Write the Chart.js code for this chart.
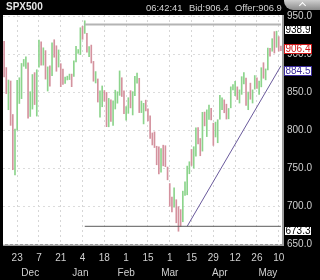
<!DOCTYPE html>
<html>
<head>
<meta charset="utf-8">
<title>SPX500</title>
<script src="https://cdn.jsdelivr.net/npm/chart.js@4.4.1/dist/chart.umd.min.js"></script>
<style>
  html, body { margin: 0; padding: 0; background: #000; }
  #wrap { position: relative; width: 320px; height: 280px; overflow: hidden; font-family: "Liberation Sans", Arial, sans-serif; }
  #chart { position: absolute; left: 0; top: 0; }
  .hdr { position: absolute; top: 2px; font-size: 9.4px; line-height: 11px; color: #d4d4d4; white-space: nowrap; }
  #sym { left: 6px; top: 1px; font-size: 10px; font-weight: bold; color: #e6e6e6; }
  #tab { position: absolute; right: 0; top: 0; width: 36px; height: 10px; background: linear-gradient(#cfcfcf, #8a8a8a); border-bottom-left-radius: 9px; }
  #tab i { position: absolute; left: 16px; top: 3px; width: 4px; height: 4px; border-left: 1.5px solid #fff; border-top: 1.5px solid #fff; transform: rotate(45deg); }
</style>
</head>
<body>
<div id="wrap">
  <canvas id="chart" width="320" height="280"></canvas>
  <div class="hdr" id="sym">SPX500</div>
  <div class="hdr" style="left:146px">06:42:41</div>
  <div class="hdr" style="left:189px">Bid:906.4</div>
  <div class="hdr" style="left:235px">Offer:906.9</div>
  <div id="tab"><i></i></div>
</div>
<script>
// daily OHLC, one entry per session (Nov 14 2008 .. May 12 2009)
const opens = [
  904.4, 873.2, 852.3, 859.0, 805.9, 755.8, 801.2, 853.4, 852.9, 887.7, 886.9,
  888.6, 817.9, 843.6, 869.8, 844.4, 882.7, 906.5, 892.2, 898.4, 871.8,
  881.1, 871.5, 908.2, 905.0, 887.0, 887.2, 874.3, 863.9, 868.2, 869.5,
  872.4, 870.6, 890.6, 903.3, 903.0, 929.2, 931.2, 927.5, 905.7, 909.9,
  890.4, 869.8, 867.3, 842.0, 844.5, 850.1, 849.6, 806.8, 839.7, 822.2,
  832.5, 837.3, 845.7, 868.9, 845.7, 823.1, 825.7, 837.8, 831.8, 846.1,
  868.2, 866.9, 827.4, 831.0, 834.0, 826.8, 818.6, 791.1, 787.9, 775.9,
  773.3, 744.7, 770.6, 765.8, 749.9, 729.6, 704.4, 698.6, 708.3, 684.0,
  680.8, 679.3, 719.6, 720.9, 752.0, 758.8, 753.9, 776.0, 797.9, 784.6,
  772.3, 820.6, 806.8, 814.1, 828.7, 809.1, 790.9, 793.6, 814.5, 835.1,
  839.8, 834.1, 816.8, 829.3, 856.6, 855.3, 856.9, 839.4, 854.5, 865.2,
  868.3, 831.3, 847.3, 844.6, 853.9, 862.8, 854.5, 856.9, 876.6, 872.7,
  879.2, 906.1, 903.8, 919.6, 909.0, 923.0, 909.2
];
const highs = [
  916.9, 882.3, 865.9, 864.6, 820.5, 801.2, 865.6, 868.9, 887.7, 893.0, 896.3,
  888.6, 850.5, 873.1, 875.6, 879.4, 918.6, 916.3, 908.3, 904.6, 883.2,
  884.6, 914.7, 918.9, 911.0, 905.5, 887.4, 880.4, 869.8, 871.0, 873.7,
  873.7, 891.1, 910.3, 906.0, 934.7, 936.6, 943.9, 927.5, 910.0, 911.9,
  890.4, 877.0, 867.3, 851.6, 858.1, 852.0, 849.6, 841.7, 839.7, 838.6,
  852.5, 850.5, 877.9, 868.9, 851.7, 830.8, 842.6, 851.9, 850.6, 870.7,
  875.0, 868.1, 838.2, 835.2, 839.4, 828.0, 818.6, 796.2, 797.6, 778.7,
  777.9, 775.5, 780.1, 779.4, 751.3, 729.6, 711.7, 724.1, 708.3, 699.1,
  695.3, 719.6, 731.9, 752.6, 758.3, 774.5, 778.1, 803.0, 803.2, 788.9,
  823.4, 823.7, 826.6, 833.0, 828.7, 809.1, 810.5, 813.6, 845.6, 842.5,
  839.8, 834.1, 828.4, 856.9, 860.0, 864.3, 856.9, 852.9, 870.3, 875.6,
  868.3, 850.1, 861.8, 852.9, 871.8, 868.8, 864.5, 882.1, 888.7, 880.5,
  907.9, 907.7, 920.3, 929.6, 930.2, 923.0, 910.5
];
const lows = [
  869.9, 848.0, 826.8, 806.2, 747.8, 741.0, 800.0, 835.0, 841.4, 884.0, 881.2,
  815.7, 817.9, 827.6, 833.6, 818.4, 882.7, 885.4, 885.5, 867.1, 851.4,
  857.7, 871.5, 895.9, 877.4, 883.0, 857.1, 860.2, 861.4, 866.0, 866.5,
  857.1, 870.6, 889.7, 901.0, 899.4, 919.5, 927.3, 902.4, 896.8, 888.3,
  864.3, 862.0, 836.9, 817.0, 830.7, 838.0, 804.5, 804.3, 811.3, 806.1,
  827.7, 835.4, 845.7, 844.2, 821.7, 812.9, 822.0, 829.2, 819.9, 845.4,
  861.7, 823.0, 823.0, 808.1, 825.2, 812.0, 789.0, 780.4, 777.0, 754.3,
  742.4, 744.7, 752.9, 751.8, 734.5, 699.7, 692.3, 698.6, 677.9, 666.8,
  672.9, 679.3, 713.9, 714.8, 742.5, 753.4, 749.9, 765.6, 781.8, 766.2,
  772.3, 805.5, 791.4, 814.1, 813.4, 779.8, 790.9, 783.3, 814.5, 826.7,
  822.8, 814.5, 814.8, 829.3, 853.0, 845.4, 840.2, 835.6, 847.0, 860.9,
  832.4, 826.8, 840.6, 835.6, 853.9, 854.7, 847.1, 856.9, 868.2, 866.1,
  879.2, 897.3, 903.8, 901.4, 909.0, 903.9, 904.5
];
const closes = [
  873.3, 850.8, 859.1, 806.6, 752.4, 800.0, 851.8, 857.4, 887.7, 890.0, 896.2,
  816.2, 848.8, 870.7, 845.2, 876.1, 909.7, 888.7, 899.2, 873.6, 879.7,
  868.6, 913.2, 904.4, 885.3, 887.9, 871.6, 863.2, 868.2, 869.0, 872.8,
  869.4, 890.6, 903.3, 905.0, 931.8, 927.5, 934.7, 906.7, 909.7, 890.4,
  870.3, 871.8, 842.6, 843.7, 850.1, 842.0, 805.2, 840.2, 827.5, 832.0,
  836.6, 845.7, 874.1, 845.1, 825.9, 825.4, 838.5, 832.2, 845.9, 868.6,
  869.9, 827.2, 833.7, 835.2, 826.8, 815.0, 789.2, 788.4, 778.9, 770.1,
  743.3, 773.1, 764.9, 752.8, 735.1, 700.8, 696.3, 712.9, 682.6, 683.4,
  676.5, 719.6, 721.4, 750.7, 756.6, 753.9, 778.1, 794.4, 784.0, 768.5,
  822.9, 806.1, 813.9, 832.9, 815.9, 787.5, 797.9, 811.1, 834.4, 842.5,
  835.5, 815.6, 825.2, 856.6, 858.0, 858.7, 841.5, 852.1, 865.3, 869.6,
  832.4, 850.1, 843.6, 851.9, 866.2, 857.5, 855.2, 873.6, 872.8, 877.5,
  907.2, 903.8, 919.5, 907.4, 929.2, 909.2, 906.4
];

// drawn levels and trend line
const levelHigh = 938.9;
const levelLow = 673.3;
const levelStart = '2009-01-05';
const trendFrom = { date: '2009-03-11', value: 673.3 };
const trendTo = { date: '2009-05-11', value: 884.5 };
const priceTags = [938.9, 906.4, 884.5, 673.3];
const yTicks = [650, 700, 750, 800, 850, 900, 950];
const monthNames = ['Jan', 'Feb', 'Mar', 'Apr', 'May', 'Jun', 'Jul', 'Aug', 'Sep', 'Oct', 'Nov', 'Dec'];

// sessions are dated by the evening they open (Sun..Thu)
const sessions = [];
for (let t = Date.UTC(2008, 10, 13); sessions.length < opens.length; t += 86400000) {
  const d = new Date(t);
  if (d.getUTCDay() !== 5 && d.getUTCDay() !== 6) sessions.push(d);
}
const labels = sessions.map(d => d.toISOString().slice(0, 10));

const firstGrid = Date.UTC(2008, 10, 23);
const dayTickIdx = [];
const monthTickIdx = [];
sessions.forEach((d, i) => {
  const days = Math.round((d.getTime() - firstGrid) / 86400000);
  if (days >= 0 && days % 14 === 0) dayTickIdx.push(i);
  if (i > 0 && d.getUTCMonth() !== sessions[i - 1].getUTCMonth()) monthTickIdx.push(i);
});

const upColor = 'rgb(140, 212, 140)';
const downColor = 'rgb(212, 146, 158)';
const tagColors = ['#000000', '#d01818', '#3c2c9c', '#000000'];
// line tags hang below their line, the live price tag is centred on it
const tagHang = [true, false, true, true];

const plotFrame = {
  id: 'plotFrame',
  beforeDraw(chart) {
    const { ctx, chartArea: a } = chart;
    ctx.save();
    ctx.fillStyle = '#000';
    ctx.fillRect(0, 0, chart.width, chart.height);
    ctx.fillStyle = '#fff';
    ctx.fillRect(a.left, a.top, a.right - a.left, a.bottom - a.top);
    ctx.fillStyle = '#9c9c9c';
    ctx.fillRect(a.right, a.top, 2, a.bottom - a.top + 2);
    ctx.fillRect(a.left, a.bottom, a.right - a.left + 2, 2);
    ctx.restore();
  },
  afterDraw(chart) {
    const { ctx } = chart;
    const y = chart.scales.y;
    ctx.save();
    ctx.font = '10px "Liberation Sans", Arial, sans-serif';
    ctx.textAlign = 'center';
    ctx.textBaseline = 'middle';
    priceTags.forEach((v, i) => {
      let top = Math.round(y.getPixelForValue(v));
      top = tagHang[i] ? top : top - 5;
      ctx.fillStyle = '#fff';
      ctx.fillRect(284, top, 28, 10);
      ctx.strokeStyle = tagColors[i];
      ctx.lineWidth = 1;
      ctx.strokeRect(284.5, top + 0.5, 27, 9);
      ctx.fillStyle = tagColors[i];
      ctx.fillText(v.toFixed(1), 298, top + 5.5);
    });
    ctx.restore();
  }
};

new Chart(document.getElementById('chart'), {
  data: {
    labels: labels,
    datasets: [
      {
        type: 'bar',
        data: lows.map((l, i) => [l, highs[i]]),
        backgroundColor: closes.map((c, i) => c >= opens[i] ? upColor : downColor),
        barThickness: 1,
        order: 2
      },
      {
        type: 'line',
        data: [{ x: levelStart, y: levelHigh }, { x: labels[labels.length - 1], y: levelHigh }],
        borderColor: '#b4b4b4',
        borderWidth: 2,
        pointRadius: 0,
        order: 1
      },
      {
        type: 'line',
        data: [{ x: levelStart, y: levelLow }, { x: labels[labels.length - 1], y: levelLow }],
        borderColor: '#5a5a5a',
        borderWidth: 1,
        pointRadius: 0,
        order: 1
      },
      {
        type: 'line',
        data: [{ x: trendFrom.date, y: trendFrom.value }, { x: trendTo.date, y: trendTo.value }],
        borderColor: '#6a5a9c',
        borderWidth: 1,
        pointRadius: 0,
        order: 1
      }
    ]
  },
  options: {
    responsive: false,
    animation: false,
    devicePixelRatio: 1,
    layout: { padding: { left: 3, top: 15, right: 0, bottom: 0 } },
    plugins: { legend: { display: false }, tooltip: { enabled: false } },
    scales: {
      x: {
        type: 'category',
        offset: true,
        afterBuildTicks: s => { s.ticks = s.ticks.filter(t => dayTickIdx.includes(t.value)); },
        afterFit: s => { s.height = 22; },
        grid: { color: '#d6d6d6', offset: false, drawTicks: false },
        border: { display: false, dash: [2, 3] },
        ticks: {
          autoSkip: false,
          maxRotation: 0,
          padding: 8,
          color: '#d0d0d0',
          font: { size: 10, family: '"Liberation Sans", Arial, sans-serif' },
          callback: function (v) { return String(sessions[v].getUTCDate()); }
        }
      },
      x2: {
        type: 'category',
        position: 'bottom',
        weight: 1,
        offset: true,
        afterBuildTicks: s => { s.ticks = s.ticks.filter(t => monthTickIdx.includes(t.value)); },
        afterFit: s => { s.height = 14; },
        grid: { display: false, drawTicks: false },
        border: { display: false },
        ticks: {
          autoSkip: false,
          maxRotation: 0,
          padding: 1,
          color: '#d0d0d0',
          font: { size: 10, family: '"Liberation Sans", Arial, sans-serif' },
          callback: function (v) { return monthNames[sessions[v].getUTCMonth()]; }
        }
      },
      y: {
        position: 'right',
        min: 650,
        max: 951.5,
        afterBuildTicks: s => { s.ticks = yTicks.map(v => ({ value: v })); },
        afterFit: s => { s.width = 38; },
        grid: { color: '#dcdcdc', drawTicks: false },
        border: { display: false, dash: [2, 3] },
        ticks: {
          padding: 5,
          color: '#d0d0d0',
          font: { size: 10, family: '"Liberation Sans", Arial, sans-serif' },
          callback: v => v.toFixed(1)
        }
      }
    }
  },
  plugins: [plotFrame]
});
</script>
</body>
</html>
